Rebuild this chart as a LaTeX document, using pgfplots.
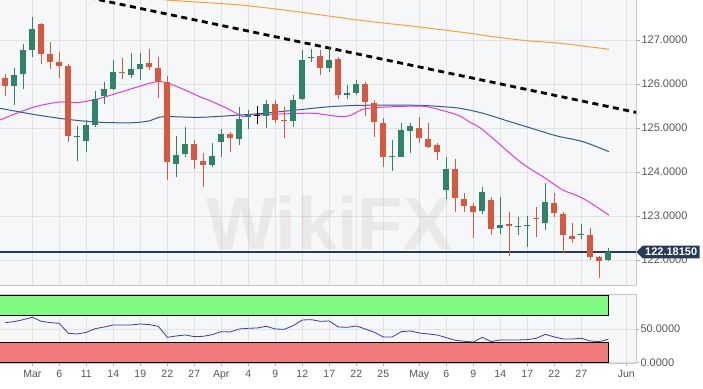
\documentclass[border=0pt]{standalone}
\usepackage{fontspec}
\setmainfont{Liberation Sans}
\usepackage{pgfplots}
\pgfplotsset{compat=1.18}
\usepackage{pgfplotstable}
\usetikzlibrary{shapes.symbols}

\definecolor{cgreen}{RGB}{47,132,104}
\definecolor{cred}{RGB}{214,88,62}
\definecolor{cmag}{RGB}{221,60,221}
\definecolor{cblue}{RGB}{52,88,150}
\definecolor{corange}{RGB}{240,162,64}
\definecolor{cnavy}{RGB}{40,58,90}
\definecolor{bgplot}{RGB}{246,247,248}
\definecolor{cgrid}{RGB}{224,226,228}
\definecolor{ctext}{RGB}{85,85,85}
\definecolor{bandgreen}{RGB}{128,250,128}
\definecolor{bandred}{RGB}{240,122,122}
\definecolor{rsiblue}{RGB}{50,60,170}
\definecolor{wmark}{RGB}{175,160,150}

\pgfplotstableread{
i O H L C
-3 126.143 126.22 125.727 125.955
-2 125.955 126.357 125.523 126.198
-1 126.22 126.902 125.88 126.766
0 126.773 127.516 126.607 127.243
1 127.37 127.38 126.448 126.689
2 126.689 126.948 126.348 126.493
3 126.50 126.734 126.143 126.409
4 126.402 126.448 124.675 124.818
5 124.79 125.052 124.257 124.81
6 124.711 125.182 124.461 125.068
7 125.061 125.841 125.016 125.659
8 125.72 126.052 125.539 125.893
9 125.893 126.545 125.857 126.266
10 126.27 126.584 126.107 126.25
11 126.205 126.698 126.143 126.334
12 126.341 126.698 126.091 126.455
13 126.47 126.789 126.311 126.38
14 126.364 126.62 125.675 126.052
15 126.045 126.189 123.818 124.234
16 124.182 124.825 123.893 124.386
17 124.402 125.03 124.348 124.636
18 124.636 124.727 124.061 124.273
19 124.257 124.439 123.666 124.152
20 124.152 124.652 124.12 124.364
21 124.689 124.977 124.348 124.864
22 124.864 124.916 124.461 124.78
23 124.757 125.47 124.614 125.211
24 125.26 125.409 124.97 125.29
25 125.27 125.507 125.084 125.27
26 125.273 125.636 124.993 125.545
27 125.545 125.636 125.12 125.182
28 125.18 125.47 124.78 125.16
29 125.159 125.743 125.016 125.636
30 125.666 126.773 125.636 126.545
31 126.58 126.789 126.493 126.62
32 126.636 126.77 126.205 126.37
33 126.37 126.848 126.28 126.545
34 126.561 126.62 125.652 125.75
35 125.75 125.977 125.652 125.79
36 125.802 126.091 125.75 126.0
37 126.0 126.05 125.273 125.598
38 125.561 125.636 124.802 125.143
39 125.12 125.22 124.12 124.334
40 124.33 124.727 124.03 124.36
41 124.348 125.107 124.34 124.955
42 124.94 125.107 124.425 125.045
43 125.007 125.243 124.666 124.766
44 124.743 125.12 124.539 124.575
45 124.607 124.666 124.273 124.455
46 123.584 124.334 123.38 124.061
47 124.061 124.289 123.098 123.402
48 123.38 123.53 123.098 123.234
49 123.227 123.289 122.493 123.098
50 123.12 123.652 123.039 123.539
51 123.364 123.439 122.568 122.698
52 122.72 123.425 122.584 122.795
53 122.82 123.098 122.091 122.78
54 122.75 122.97 122.568 122.77
55 122.77 123.007 122.302 122.79
56 122.95 123.198 122.53 122.93
57 122.834 123.757 122.682 123.311
58 123.303 123.516 122.984 123.061
59 123.045 123.098 122.152 122.568
60 122.553 122.834 122.38 122.47
61 122.56 122.81 122.47 122.59
62 122.568 122.72 122.0 122.075
63 122.075 122.1 121.584 121.977
64 122.0 122.266 121.977 122.1815
}\candles

\pgfplotstableread{
i v
-3 59.5
-2 61
-1 64
0 67.5
1 61.5
2 59.5
3 58.5
4 43.5
5 42.5
6 45
7 50.5
8 53
9 56
10 56
11 56
12 57.5
13 56.5
14 54
15 37.5
16 39.5
17 41
18 38.5
19 39
20 41.5
21 46
22 45.5
23 50
24 51
25 51.5
26 54
27 50
28 49.5
29 55
30 63.5
31 64
32 61.5
33 62
34 53
35 52.5
36 54.5
37 50
38 45
39 38
40 38
41 46
42 47
43 44
44 42.5
45 41
46 37
47 33
48 31.5
49 30.5
50 37.5
51 31
52 33.5
53 33.5
54 33.5
55 34
56 36
57 42
58 38
59 35
60 35
61 36
62 32
63 31
64 34.5
}\rsi

\begin{document}
\begin{tikzpicture}
\pgfplotsset{
  panel/.style={
    scale only axis, width=636pt,
    xmin=-3.59, xmax=67.08,
    axis background/.style={fill=bgplot},
    xtick={0,3,6,9,12,15,18,21,24,27,30,33,36,39,43,46,49,52,55,58,61,66},
    xmajorgrids, ymajorgrids,
    major grid style={draw=cgrid, line width=0.6pt},
    axis line style={draw=gray!45, line width=0.7pt},
    tick align=outside, major tick length=4pt,
    tick style={draw=gray!70, line width=0.6pt},
    ticklabel style={font=\fontsize{11}{13}\selectfont, text=ctext},
    /pgf/number format/assume math mode=true,
    yticklabel style={xshift=-2pt, /pgf/number format/.cd, fixed, fixed zerofill, precision=4, 1000 sep={}},
    axis y line*=right,
  },
  bodyplot/.style={draw=none, mark=none,
    error bars/.cd, y dir=plus, y explicit, error mark=none,
    error bar style={draw=#1, line width=6pt}},
  wickplot/.style={draw=none, mark=none,
    error bars/.cd, y dir=plus, y explicit, error mark=none,
    error bar style={draw=#1, line width=1pt}},
}
% ---------------- main price panel ----------------
\begin{axis}[panel, at={(0pt,0pt)}, anchor=north west, height=285pt,
  ymin=121.432, ymax=127.909, ytick={122,123,124,125,126,127},
  axis x line*=bottom, xticklabels={}, xtick style={draw=none}]

\node[opacity=0.16, text=wmark, font=\bfseries\fontsize{74}{74}\selectfont] at (axis cs:33,122.85) {WikiFX};

% moving averages
\addplot[corange, line width=1pt, smooth] coordinates {
(11.97,128.0) (14.97,127.909) (23.08,127.795) (29.41,127.643) (36.74,127.439)
(42.74,127.302) (48.63,127.152) (51.19,127.075) (54.97,126.984) (58.63,126.925) (64.08,126.789)};
\addplot[cblue, line width=1pt, smooth] coordinates {
(-3.59,125.448) (0.08,125.311) (3.86,125.198) (7.52,125.13) (11.19,125.12) (13.08,125.166)
(14.52,125.257) (18.63,125.243) (23.08,125.295) (25.63,125.334) (29.41,125.41) (33.08,125.484)
(36.74,125.516) (42.74,125.516) (45.63,125.484) (47.52,125.448) (50.08,125.334) (53.08,125.143)
(56.08,124.955) (58.3,124.818) (61.19,124.689) (64.08,124.461)};
\addplot[cmag, line width=1pt, smooth] coordinates {
(-3.59,125.182) (0.08,125.47) (3.08,125.591) (4.97,125.575) (7.52,125.675) (11.19,125.902)
(13.86,126.052) (15.63,125.977) (18.63,125.711) (19.74,125.62) (21.63,125.448) (23.41,125.257)
(24.19,125.295) (27.52,125.318) (31.19,125.334) (34.74,125.257) (36.74,125.425) (38.63,125.47)
(42.74,125.5) (44.19,125.47) (46.08,125.37) (47.52,125.27) (48.63,125.13) (50.08,124.955)
(54.19,124.234) (56.74,123.893) (58.97,123.591) (61.19,123.402) (64.08,123.02)};

% trend line
\addplot[black, line width=2.8pt, dash pattern=on 6pt off 4.5pt] coordinates {(-4,128.403) (68,125.316)};

% last price line
\addplot[cnavy, line width=1.1pt] coordinates {(-3.59,122.1815) (67.08,122.1815)};

% candles: wicks
\addplot[wickplot=cgreen] table[x=i, y=L, y error plus expr={\thisrow{H}-\thisrow{L}},
  restrict expr to domain={\thisrow{C}-\thisrow{O}}{0.0001:100}] {\candles};
\addplot[wickplot=cred] table[x=i, y=L, y error plus expr={\thisrow{H}-\thisrow{L}},
  restrict expr to domain={\thisrow{C}-\thisrow{O}}{-100:-0.0001}] {\candles};
\addplot[wickplot=black] table[x=i, y=L, y error plus expr={\thisrow{H}-\thisrow{L}},
  restrict expr to domain={\thisrow{C}-\thisrow{O}}{-0.0001:0.0001}] {\candles};
% candles: bodies
\addplot[bodyplot=cgreen] table[x=i, y expr={min(\thisrow{O},\thisrow{C})},
  y error plus expr={max(abs(\thisrow{C}-\thisrow{O}),0.025)},
  restrict expr to domain={\thisrow{C}-\thisrow{O}}{0.0001:100}] {\candles};
\addplot[bodyplot=cred] table[x=i, y expr={min(\thisrow{O},\thisrow{C})},
  y error plus expr={max(abs(\thisrow{C}-\thisrow{O}),0.025)},
  restrict expr to domain={\thisrow{C}-\thisrow{O}}{-100:-0.0001}] {\candles};
\addplot[bodyplot=black] table[x=i, y expr={min(\thisrow{O},\thisrow{C})},
  y error plus expr={max(abs(\thisrow{C}-\thisrow{O}),0.025)},
  restrict expr to domain={\thisrow{C}-\thisrow{O}}{-0.0001:0.0001}] {\candles};

\coordinate (lastpx) at (axis cs:67.08,122.1815);
\coordinate (top128) at (axis cs:67.08,128);
\end{axis}

% ---------------- RSI panel ----------------
\begin{axis}[panel, at={(0pt,-294.3pt)}, anchor=north west, height=69pt,
  ymin=-1.5, ymax=102, ytick={0,50},
  axis x line*=box, xtick pos=lower, major tick length=3pt,
  xticklabels={Mar,6,11,14,19,22,27,Apr,4,9,12,17,22,25,May,6,9,14,17,22,27,Jun},
  xticklabel style={font=\fontsize{10.5}{12}\selectfont}]
\addplot[fill=bandgreen, draw=black, line width=0.7pt] coordinates {(-5,70) (64,70) (64,100) (-5,100)} -- cycle;
\addplot[fill=bandred, draw=black, line width=0.7pt] coordinates {(-5,0) (64,0) (64,30) (-5,30)} -- cycle;
\addplot[rsiblue, line width=0.8pt] table[x=i, y=v] {\rsi};
\end{axis}

\node[anchor=west, xshift=2pt, text=ctext, font=\fontsize{11}{13}\selectfont] at (top128) {128.0000};
\node[signal, signal to=west, fill=cnavy, text=white, font=\bfseries\fontsize{11}{13}\selectfont,
  inner xsep=2.5pt, inner ysep=2.5pt, anchor=west] at (lastpx) {122.18150};

\pgfresetboundingbox
\useasboundingbox (0pt,0pt) rectangle (703pt,-388pt);
\end{tikzpicture}
\end{document}
